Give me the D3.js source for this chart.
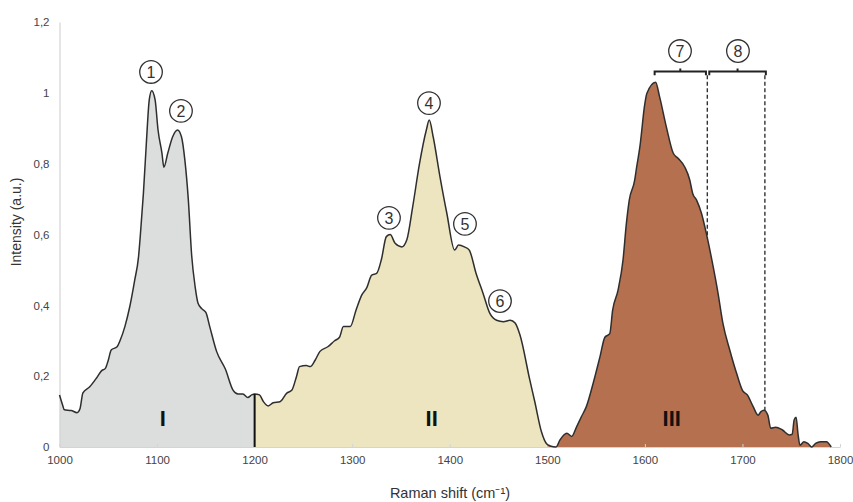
<!DOCTYPE html>
<html>
<head>
<meta charset="utf-8">
<script src="https://cdn.jsdelivr.net/npm/d3@7"></script>
<style>
  html, body { margin: 0; padding: 0; background: #fff; }
  svg { display: block; font-family: "Liberation Sans", Arial, Helvetica, sans-serif; }
</style>
</head>
<body>
<svg id="chart" width="853" height="502"></svg>
<script>
// ---- Data ----
const ramanShift = [
  1000,1003,1005,1012,1018,1021,1024,1031,1038,1043,1047,1050,1053,1059,1062,1067,1072,1077,1081,1083,
  1086,1089,1092,1094.5,1098,1101,1105,1107,1111,1116,1121,1125,1128.5,1132,1135.5,1139,1142,1146,1150,1154,
  1161,1170,1178,1183,1188,1193,1197,1200,1205,1209,1214,1219,1226,1233,1238,1243,1246,1253,1257,1262,
  1267,1275,1282,1287,1291,1298,1304,1310,1315,1320,1325,1330,1335,1339,1344,1351,1356,1362,1369,1376,
  1379,1383,1390,1397,1405,1409,1415,1420,1427,1434,1441,1448,1455,1462,1467,1472,1482,1487,1494,1499,
  1503,1509,1513,1520,1525,1530,1535,1540,1547,1554,1559,1564,1567,1572.5,1577.6,1581,1584,1589.6,1591,1595,
  1600,1602,1611,1615,1622,1629,1634,1641,1646,1649,1653,1658,1663,1670,1675,1680,1687,1694,1700,1705,
  1711,1716,1719,1722,1726,1729,1734,1741,1748,1751,1753,1755,1757,1759,1763,1767,1771,1775,1780,1786,1791
];
const intensity = [
  0.147,0.12,0.105,0.103,0.097,0.108,0.153,0.17,0.195,0.215,0.222,0.245,0.274,0.283,0.30,0.34,0.396,0.47,0.537,0.603,
  0.716,0.857,0.98,1.006,0.98,0.895,0.83,0.79,0.83,0.876,0.895,0.876,0.81,0.70,0.54,0.453,0.406,0.39,0.38,0.34,
  0.27,0.22,0.16,0.15,0.15,0.14,0.147,0.15,0.147,0.128,0.116,0.125,0.128,0.152,0.16,0.2,0.227,0.23,0.227,0.245,
  0.27,0.283,0.30,0.31,0.34,0.34,0.387,0.43,0.45,0.485,0.49,0.53,0.594,0.60,0.575,0.565,0.585,0.678,0.80,0.895,
  0.923,0.876,0.763,0.66,0.556,0.57,0.565,0.556,0.49,0.435,0.378,0.358,0.354,0.358,0.35,0.316,0.19,0.13,0.043,0.01,
  0.003,0.0,0.02,0.039,0.03,0.057,0.086,0.114,0.18,0.255,0.31,0.32,0.387,0.443,0.528,0.63,0.697,0.754,0.78,0.85,
  0.97,0.998,1.03,0.99,0.904,0.83,0.815,0.79,0.754,0.716,0.697,0.66,0.603,0.509,0.434,0.349,0.274,0.208,0.16,0.147,
  0.114,0.09,0.1,0.104,0.09,0.053,0.056,0.048,0.034,0.036,0.076,0.084,0.036,0.005,0.015,0.01,0.0,0.01,0.015,0.015,0.0
];

const regionNames  = ["I", "II", "III"];
const regionStart  = [1000, 1200, 1500];
const regionEnd    = [1200, 1500, 1800];
const regionLabelX = [1106, 1381.5, 1627.5];
const regionColors = ["#dcdddd", "#ece5bf", "#b4704f"];

const xTicks = [1000, 1100, 1200, 1300, 1400, 1500, 1600, 1700, 1800];
const yTicks = [0, 0.2, 0.4, 0.6, 0.8, 1, 1.2];
const yTickLabels = ["0", "0,2", "0,4", "0,6", "0,8", "1", "1,2"];

const peakLabels = ["1", "2", "3", "4", "5", "6", "7", "8"];
const peakLabelX = [1093.8, 1124.5, 1337.7, 1378.7, 1415.6, 1451.5, 1636, 1695.4];
const peakLabelY = [1.059, 0.949, 0.647, 0.971, 0.630, 0.412, 1.118, 1.118];

// brackets for bands 7 and 8
const bracketStart = [1610, 1666];
const bracketEnd   = [1662.6, 1724];
const dashedX      = [1664, 1723];

// ---- Drawing ----
const svg = d3.select("#chart");
const x = d3.scaleLinear().domain([1000, 1800]).range([59.5, 840]);
const y = d3.scaleLinear().domain([0, 1.2]).range([447, 22]);

const data = ramanShift.map((r, i) => ({ x: r, y: intensity[i] }));

const defs = svg.append("defs");
regionNames.forEach((n, i) => {
  defs.append("clipPath").attr("id", "clip" + i)
    .append("rect")
    .attr("x", x(regionStart[i])).attr("y", 0)
    .attr("width", x(regionEnd[i]) - x(regionStart[i]))
    .attr("height", 502);
});

const area = d3.area().x(d => x(d.x)).y0(y(0)).y1(d => y(d.y)).curve(d3.curveMonotoneX);
const line = d3.line().x(d => x(d.x)).y(d => y(d.y)).curve(d3.curveMonotoneX);

regionNames.forEach((n, i) => {
  svg.append("path").datum(data)
    .attr("clip-path", "url(#clip" + i + ")")
    .attr("fill", regionColors[i])
    .attr("d", area);
});

// axes
const xAxis = d3.axisBottom(x).tickValues(xTicks).tickSize(0).tickPadding(9).tickFormat(d3.format("d"));
const gx = svg.append("g").attr("transform", `translate(0,${y(0)})`).call(xAxis);
gx.select(".domain").attr("stroke", "#d4d4d4").attr("stroke-width", 1.2);
gx.selectAll(".tick text").attr("fill", "#444").attr("font-size", 11.5);
gx.selectAll(".tick").append("line").attr("y1", 0).attr("y2", -3).attr("stroke", "#d4d4d4");

const yAxis = d3.axisLeft(y).tickValues(yTicks).tickSize(0).tickPadding(10)
  .tickFormat((d, i) => yTickLabels[i]);
const gy = svg.append("g").attr("transform", `translate(${x(1000)},0)`).call(yAxis);
gy.select(".domain").attr("stroke", "#d4d4d4").attr("stroke-width", 1.2);
gy.selectAll(".tick text").attr("fill", "#444").attr("font-size", 11.5);

// curve outline
svg.append("path").datum(data)
  .attr("fill", "none").attr("stroke", "#2e2e2e").attr("stroke-width", 1.5)
  .attr("stroke-linejoin", "round")
  .attr("d", line);

// divider at 1200
const iDiv = ramanShift.indexOf(1200);
svg.append("line")
  .attr("x1", x(1200)).attr("x2", x(1200))
  .attr("y1", y(intensity[iDiv])).attr("y2", y(0))
  .attr("stroke", "#111").attr("stroke-width", 2);

// region labels
regionNames.forEach((n, i) => {
  svg.append("text")
    .attr("x", x(regionLabelX[i])).attr("y", y(0.082))
    .attr("dy", "0.36em")
    .attr("text-anchor", "middle")
    .attr("font-size", 22).attr("font-weight", "bold")
    .attr("fill", "#111")
    .text(n);
});

// dashed lines
function interp(xv) {
  for (let i = 0; i < ramanShift.length - 1; i++) {
    if (xv >= ramanShift[i] && xv <= ramanShift[i + 1]) {
      const t = (xv - ramanShift[i]) / (ramanShift[i + 1] - ramanShift[i]);
      return intensity[i] + t * (intensity[i + 1] - intensity[i]);
    }
  }
  return 0;
}
const bracketY = 1.06, bracketEndY = 1.05, bracketMidY = 1.069;
dashedX.forEach(dx => {
  svg.append("line")
    .attr("x1", x(dx)).attr("x2", x(dx))
    .attr("y1", y(bracketEndY)).attr("y2", y(interp(dx)))
    .attr("stroke", "#333").attr("stroke-width", 1.4)
    .attr("stroke-dasharray", "4,2.5");
});

// brackets
bracketStart.forEach((bs, i) => {
  const be = bracketEnd[i];
  const mid = (bs + be) / 2;
  const p = d3.path();
  p.moveTo(x(bs), y(bracketEndY));
  p.lineTo(x(bs), y(bracketY));
  p.lineTo(x(be), y(bracketY));
  p.lineTo(x(be), y(bracketEndY));
  p.moveTo(x(mid), y(bracketY));
  p.lineTo(x(mid), y(bracketMidY));
  svg.append("path").attr("d", p.toString())
    .attr("fill", "none").attr("stroke", "#222").attr("stroke-width", 2);
});

// circled numbers
peakLabels.forEach((t, i) => {
  const g = svg.append("g").attr("transform", `translate(${x(peakLabelX[i])},${y(peakLabelY[i])})`);
  g.append("circle").attr("r", 11.3).attr("fill", "#fff").attr("fill-opacity", 0)
    .attr("stroke", "#333").attr("stroke-width", 1.3);
  g.append("text").attr("text-anchor", "middle").attr("dy", "0.36em")
    .attr("font-size", 16).attr("fill", "#333").text(t);
});

// axis titles
svg.append("text")
  .attr("x", 450).attr("y", 498)
  .attr("text-anchor", "middle").attr("font-size", 14.5).attr("fill", "#333")
  .text("Raman shift (cm\u207B\u00B9)");
svg.append("text")
  .attr("transform", "translate(21,222) rotate(-90)")
  .attr("text-anchor", "middle").attr("font-size", 14).attr("fill", "#333")
  .text("Intensity (a.u.)");
</script>
</body>
</html>
